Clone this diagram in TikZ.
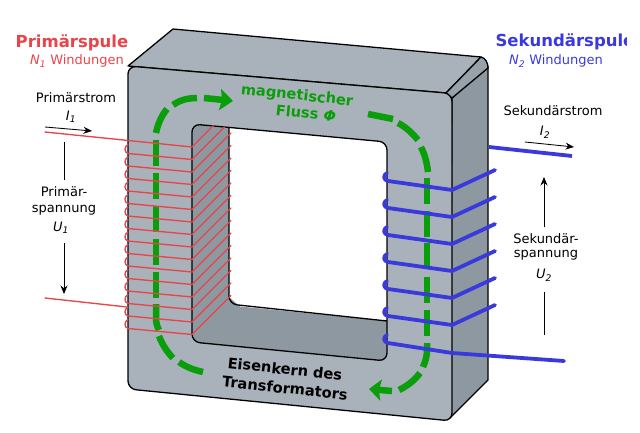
\documentclass[tikz,border=0pt]{standalone}
\usepackage{fontspec}
\setmainfont{DejaVu Sans}
\usetikzlibrary{arrows.meta}

\definecolor{ironfront}{HTML}{A9B2BA}
\definecolor{ironside}{HTML}{8D98A0}
\definecolor{ironedge}{HTML}{98A2AA}
\definecolor{primred}{HTML}{E8444A}
\definecolor{secblue}{HTML}{3A3ADC}
\definecolor{fluxgreen}{HTML}{0A9E0A}

\newcommand{\varsub}[2]{\textit{#1}\textsubscript{\textit{#2}}}

\tikzset{
  iron/.style={draw=black,line width=1.3pt,line join=round},
  flux/.style={draw=fluxgreen,line width=6.5pt},
  primwire/.style={draw=primred,line width=1.35pt,line cap=round},
  secwire/.style={draw=secblue,line width=3.8pt,line cap=round,line join=round},
  volt/.style={draw=black,line width=0.85pt},
  lbl/.style={font=\fontsize{13}{16}\selectfont,align=center},
  coiltitle/.style={font=\fontsize{16.5}{18}\selectfont\bfseries},
  coretext/.style={font=\fontsize{14.6}{16}\selectfont\bfseries,rotate=-6,inner sep=0pt}
}

\begin{document}
\begin{tikzpicture}[x=1pt,y=-1pt,>={Stealth[length=8.5pt,width=7pt]}]
    \useasboundingbox (0,0) rectangle (640,433);

    % Side and top of the core
    \path[iron,fill=ironside] (452,98) -- (488,66) -- (488,380) -- (450,418) -- cycle;
    \path[iron,fill=ironfront] (128,66) -- (173,29) -- (481,57) -- (446,93) -- cycle;
    \path[iron,fill=ironedge] (446,93) -- (481,57) .. controls (485,58) and (488,62) .. (488,68) -- (452,98) -- cycle;

    % Inside of the window
    \path[fill=ironside] (192,124) -- (229,124) -- (229,305) -- (192,342) -- cycle;
    \path[fill=ironside] (192,342) -- (229,297) -- (240,306.5) -- (387,321) -- (387,361) -- cycle;
    \draw[iron,rounded corners=8pt] (229,124) -- (229,304) -- (387,321);

    % Front of the core
    \path[iron,fill=ironfront,even odd rule,rounded corners=8pt]
      (128,66) -- (452,93.5) -- (452,421) -- (128,389) -- cycle
      (192,124) -- (387,142) -- (387,361) -- (192,342) -- cycle;

    % Flux
    \foreach \ypos in {140,173,...,272}
      \draw[flux] (156,\ypos) -- (156,\ypos+26);
    \draw[flux] (156,304) -- (156,318) .. controls (156,323) and (157,326) .. (159,330);
    \draw[flux] (159,336) .. controls (162,344) and (167,352) .. (173,358);
    \draw[flux] (179,362) .. controls (186,367) and (194,370) .. (203,372);
    \draw[flux] (156,133) .. controls (158,123) and (162,115) .. (167,109);
    \draw[flux] (173,105) .. controls (180,100) and (188,98) .. (197,98);
    \draw[flux,-{Stealth[length=13pt,width=21pt,inset=2pt]}] (204,98) -- (233,101);
    \draw[flux] (368,114) -- (393,119);
    \draw[flux] (398,123) .. controls (406,127) and (412,133) .. (418,140);
    \draw[flux] (421,147) .. controls (425,155) and (427,163) .. (428,172);
    \foreach \ypos in {178,210.5,243,277,310}
      \draw[flux] (427,\ypos) -- (427,\ypos+26);
    \draw[flux] (427,343) -- (427,350) .. controls (427,357) and (425,362) .. (423,367);
    \draw[flux] (420,373) .. controls (414,381) and (407,386) .. (399,390);
    \draw[flux,-{Stealth[length=12pt,width=21pt,inset=2pt]}] (392,391) -- (369,389);

    % Primary coil
    \begin{scope}
      \clip (190,122) -- (233,128) -- (233,345) -- (190,345) -- cycle;
      \foreach \ypos in {147,159.5,...,335}
        \draw[primwire] (192,\ypos) -- (231,\ypos-39);
    \end{scope}
    \foreach \ypos in {159.5,172,...,335}
      \draw[primwire] (192,\ypos) -- (128,\ypos-6) .. controls (124,\ypos-7) and (124,\ypos-13) .. (128,\ypos-15);
    \coordinate (priminA) at (45,132);
    \coordinate (priminB) at (192,147);
    \coordinate (primoutA) at (45,298);
    \coordinate (primoutB) at (127,307);
    \draw[primwire] (priminA) -- (priminB);
    \draw[primwire] (primoutA) -- (primoutB);

    % Secondary coil
    \foreach \ypos in {190,217,...,325}
      \draw[secwire] (495,\ypos-20) -- (452,\ypos) -- (388,\ypos-9) .. controls (383,\ypos-10) and (383,\ypos-15) .. (387,\ypos-17);
    \draw[secwire] (564,361) -- (452,353) -- (388,343) .. controls (383,342) and (383,337) .. (387,335);
    \coordinate (secoutA) at (489,147);
    \coordinate (secoutB) at (572,156);
    \draw[secwire,line cap=butt] (secoutA) -- (secoutB);

    % Labels
    \node[coiltitle,text=primred] (primtitle) at (72,43) {Primärspule};
    \node[lbl,text=primred] (primturns) at (77,61) {\varsub{N}{1} Windungen};
    \node[lbl] (primcurrent) at (76,98) {Primärstrom};
    \node[lbl] (primi) at (71,117) {\varsub{I}{1}};
    \node[lbl] (primvolt) at (64,201) {Primär-\\spannung};
    \node[lbl] (primu) at (61,228) {\varsub{U}{1}};
    \begin{scope}
      \clip (0,0) rectangle (626,433);
      \node[coiltitle,text=secblue] (sectitle) at (565,42) {Sekundärspule};
    \end{scope}
    \node[lbl,text=secblue] (secturns) at (556,61) {\varsub{N}{2} Windungen};
    \node[lbl] (seccurrent) at (553,111) {Sekundärstrom};
    \node[lbl] (seci) at (545,132) {\varsub{I}{2}};
    \node[lbl,font=\fontsize{13}{14}\selectfont] (secvolt) at (546,247) {Sekundär-\\spannung};
    \node[lbl] (secu) at (544,275) {\varsub{U}{2}};
    \node[coretext,text=fluxgreen] (fluxtext) at (297,96) {magnetischer};
    \node[coretext,text=fluxgreen] (fluxphi) at (306,113) {Fluss \textit{Φ}};
    \node[coretext] (coretitle) at (285,369) {Eisenkern des};
    \node[coretext] (coresub) at (285,388) {Transformators};

    % Arrows
    \coordinate (iA) at (45,127);
    \coordinate (iB) at (92,131);
    \coordinate (uA) at (64,142);
    \coordinate (uB) at (64,180);
    \coordinate (uC) at (64,243);
    \coordinate (uD) at (64,294);
    \coordinate (jA) at (525,142);
    \coordinate (jB) at (574,147);
    \coordinate (vA) at (544,227);
    \coordinate (vB) at (544,177);
    \coordinate (vC) at (544,292);
    \coordinate (vD) at (544,335);
    \draw[volt,->] (iA) -- (iB);
    \draw[volt] (uA) -- (uB);
    \draw[volt,->] (uC) -- (uD);
    \draw[volt,->] (jA) -- (jB);
    \draw[volt,->] (vA) -- (vB);
    \draw[volt] (vC) -- (vD);
\end{tikzpicture}
\end{document}
